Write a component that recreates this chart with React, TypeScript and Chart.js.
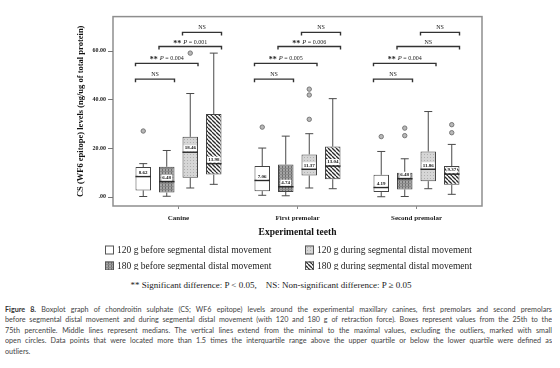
import React, { useEffect, useRef } from "react";
import { Chart, registerables } from "chart.js";

Chart.register(...registerables);

const categories = ["Canine", "First premolar", "Second premolar"];
const seriesNames = [
  "120 g before segmental distal movement",
  "180 g before segmental distal movement",
  "120 g during segmental distal movement",
  "180 g during segmental distal movement",
];
// per series, per category: [min, q1, median, q3, max]
const s120Before = [
  [0.1, 2.6, 8.3, 12.2, 13.6],
  [0.6, 2.3, 6.7, 12.6, 20.0],
  [0.0, 1.9, 3.8, 9.0, 18.6],
];
const s180Before = [
  [0.2, 1.7, 6.2, 12.3, 19.0],
  [0.4, 2.0, 4.1, 13.2, 24.9],
  [0.1, 3.0, 7.4, 9.9, 15.6],
];
const s120During = [
  [3.6, 7.8, 18.3, 24.6, 42.4],
  [3.6, 8.7, 11.3, 17.4, 25.9],
  [3.3, 6.4, 11.3, 18.6, 35.0],
];
const s180During = [
  [5.1, 9.1, 13.6, 34.0, 59.0],
  [3.3, 7.2, 12.6, 20.6, 40.3],
  [1.0, 4.9, 9.3, 12.6, 21.5],
];
const outliers120Before = [[27.0], [28.6], [24.7]];
const outliers180Before = [[], [], [28.2, 25.1]];
const outliers120During = [[59.0], [44.2, 41.8, 31.8], []];
const outliers180During = [[], [], [29.6, 26.3]];
const medianLabels120Before = ["8.62", "7.06", "4.19"];
const medianLabels180Before = ["6.48", "4.74", "6.48"];
const medianLabels120During = ["18.46", "11.37", "11.86"];
const medianLabels180During = ["13.98", "13.04", "9.37"];

// brackets: [category, fromSeries, toSeries, level]
const bracketPos = [
  [0, 0, 1, 48.3], [0, 0, 2, 54.8], [0, 1, 3, 61.7], [0, 2, 3, 67.5],
  [1, 0, 1, 48.3], [1, 0, 2, 54.8], [1, 1, 3, 61.7], [1, 2, 3, 67.5],
  [2, 0, 1, 48.3], [2, 0, 2, 54.8], [2, 1, 3, 61.7], [2, 2, 3, 67.5],
];
const bracketPValues = [
  "NS", "0.004", "0.001", "NS",
  "NS", "0.005", "0.006", "NS",
  "NS", "0.004", "NS", "NS",
];
const yTicks = [0, 20, 40, 60];

const statsAll = [s120Before, s180Before, s120During, s180During];
const outliersAll = [outliers120Before, outliers180Before, outliers120During, outliers180During];
const medLabelsAll = [medianLabels120Before, medianLabels180Before, medianLabels120During, medianLabels180During];

const SERIF = "'Liberation Serif', 'Times New Roman', serif";

function makePattern(kind: number): CanvasPattern | string {
  const c = document.createElement("canvas");
  const n = kind === 3 ? 4 : 3;
  c.width = n;
  c.height = n;
  const g = c.getContext("2d")!;
  if (kind === 0) return "#ffffff";
  if (kind === 1) {
    g.fillStyle = "#a4a4a4";
    g.fillRect(0, 0, n, n);
    g.fillStyle = "#6e6e6e";
    g.fillRect(0, 0, 1, n);
    g.fillStyle = "#8a8a8a";
    g.fillRect(0, 0, n, 1);
  } else if (kind === 2) {
    g.fillStyle = "#d6d6d6";
    g.fillRect(0, 0, n, n);
    g.fillStyle = "#b0b0b0";
    g.fillRect(1, 1, 1, 1);
  } else {
    g.fillStyle = "#ffffff";
    g.fillRect(0, 0, n, n);
    g.strokeStyle = "#2a2a2a";
    g.lineWidth = 1.3;
    for (let k = -1; k <= 1; k++) {
      g.beginPath();
      g.moveTo(k * n, 0);
      g.lineTo(k * n + n, n);
      g.stroke();
    }
  }
  return g.createPattern(c, "repeat")!;
}

const extrasPlugin = {
  id: "boxExtras",
  afterDatasetsDraw(chart: any) {
    const ctx = chart.ctx as CanvasRenderingContext2D;
    const ys = chart.scales.y;
    const area = chart.chartArea;
    const boxGeom: { x: number; w: number }[][] = [];
    ctx.save();
    statsAll.forEach((stats, di) => {
      const meta = chart.getDatasetMeta(di);
      boxGeom[di] = [];
      meta.data.forEach((bar: any, ci: number) => {
        const { x, width } = bar.getProps(["x", "width"], true);
        boxGeom[di][ci] = { x, w: width };
        const [mn, q1, md, q3, mx] = stats[ci];
        const pMn = ys.getPixelForValue(mn);
        const pQ1 = ys.getPixelForValue(q1);
        const pMd = ys.getPixelForValue(md);
        const pQ3 = ys.getPixelForValue(q3);
        const pMx = ys.getPixelForValue(mx);
        ctx.strokeStyle = "#4a4a4a";
        ctx.lineWidth = 1;
        ctx.beginPath();
        ctx.moveTo(x, pQ3);
        ctx.lineTo(x, pMx);
        ctx.moveTo(x - 4, pMx);
        ctx.lineTo(x + 4, pMx);
        ctx.moveTo(x, pQ1);
        ctx.lineTo(x, pMn);
        ctx.moveTo(x - 4, pMn);
        ctx.lineTo(x + 4, pMn);
        ctx.stroke();
        // median
        ctx.strokeStyle = "#2a2a2a";
        ctx.lineWidth = 1.5;
        ctx.beginPath();
        ctx.moveTo(x - width / 2, pMd);
        ctx.lineTo(x + width / 2, pMd);
        ctx.stroke();
        // median label
        const lbl = medLabelsAll[di][ci];
        ctx.font = `bold 5px ${SERIF}`;
        const tw = ctx.measureText(lbl).width;
        ctx.fillStyle = "#ffffff";
        ctx.fillRect(x - tw / 2 - 1, pMd - 7, tw + 2, 6);
        ctx.fillStyle = "#111";
        ctx.textAlign = "center";
        ctx.textBaseline = "middle";
        ctx.fillText(lbl, x, pMd - 4);
        // outliers
        outliersAll[di][ci].forEach((v) => {
          const py = ys.getPixelForValue(v);
          ctx.beginPath();
          ctx.arc(x, py, 2.2, 0, Math.PI * 2);
          ctx.fillStyle = "#b8b8b8";
          ctx.fill();
          ctx.strokeStyle = "#777";
          ctx.lineWidth = 1;
          ctx.stroke();
        });
      });
    });
    // brackets
    bracketPos.forEach(([ci, a, b, level], i) => {
      const ga = boxGeom[a][ci];
      const gb = boxGeom[b][ci];
      const x0 = ga.x - ga.w / 2;
      const x1 = gb.x + gb.w / 2;
      const py = ys.getPixelForValue(level);
      ctx.strokeStyle = "#333";
      ctx.lineWidth = 1.4;
      ctx.beginPath();
      ctx.moveTo(x0, py + 3);
      ctx.lineTo(x0, py);
      ctx.lineTo(x1, py);
      ctx.lineTo(x1, py + 3);
      ctx.stroke();
      const cx = (x0 + x1) / 2;
      const txt = bracketPValues[i];
      ctx.fillStyle = "#222";
      ctx.textBaseline = "alphabetic";
      if (txt === "NS") {
        ctx.font = `6px ${SERIF}`;
        ctx.textAlign = "center";
        ctx.fillText("NS", cx, py - 3);
      } else {
        const parts = [
          { t: "** ", f: `bold 8px ${SERIF}` },
          { t: "P", f: `italic 6.5px ${SERIF}` },
          { t: " = " + txt, f: `6px ${SERIF}` },
        ];
        let total = 0;
        parts.forEach((p) => {
          ctx.font = p.f;
          total += ctx.measureText(p.t).width;
        });
        let xx = cx - total / 2;
        ctx.textAlign = "left";
        parts.forEach((p) => {
          ctx.font = p.f;
          ctx.fillText(p.t, xx, p.t.startsWith("*") ? py - 1 : py - 3);
          xx += ctx.measureText(p.t).width;
        });
      }
    });
    // frame
    ctx.strokeStyle = "#8e8e8e";
    ctx.lineWidth = 1.5;
    ctx.strokeRect(area.left - 6, area.top, area.right - area.left + 12, area.bottom - area.top);
    // y tick marks
    ctx.strokeStyle = "#777";
    ctx.lineWidth = 1;
    yTicks.forEach((v) => {
      const py = Math.round(ys.getPixelForValue(v)) + 0.5;
      ctx.beginPath();
      ctx.moveTo(area.left - 11, py);
      ctx.lineTo(area.left - 6, py);
      ctx.stroke();
    });
    // legend
    const legX = [105, 305];
    const legY = [250, 266];
    const order = [0, 2, 1, 3];
    order.forEach((si) => {
      const col = si >= 2 ? 1 : 0;
      const row = si % 2;
      const lx = legX[col];
      const ly = legY[row];
      const ds = chart.data.datasets[si];
      ctx.fillStyle = ds.backgroundColor;
      ctx.fillRect(lx, ly - 4.5, 9, 9);
      ctx.strokeStyle = "#555";
      ctx.lineWidth = 1;
      ctx.strokeRect(lx + 0.5, ly - 4, 8, 8);
      ctx.fillStyle = "#222";
      ctx.font = `9.5px ${SERIF}`;
      ctx.textAlign = "left";
      ctx.textBaseline = "middle";
      ctx.fillText(seriesNames[si], lx + 12, ly + 0.5);
    });
    ctx.restore();
  },
};

export default function App() {
  const ref = useRef<HTMLCanvasElement>(null);
  useEffect(() => {
    const canvas = ref.current!;
    const chart = new Chart(canvas, {
      type: "bar",
      data: {
        labels: categories,
        datasets: statsAll.map((stats, i) => ({
          label: seriesNames[i],
          data: stats.map((s) => [s[1], s[3]]) as any,
          backgroundColor: makePattern(i) as any,
          borderColor: "#444",
          borderWidth: 1,
          borderSkipped: false,
          categoryPercentage: 0.79,
          barPercentage: 0.66,
        })),
      },
      options: {
        animation: false,
        responsive: false,
        devicePixelRatio: 1,
        layout: { padding: { left: 0, top: 3, right: 84, bottom: 32 } },
        plugins: { legend: { display: false }, tooltip: { enabled: false } },
        scales: {
          x: {
            afterFit: (s: any) => {
              s.height = 32;
            },
            border: { display: false },
            grid: { drawOnChartArea: false, offset: false, tickLength: 3, color: "#888" },
            ticks: { padding: 5, color: "#222", font: { family: SERIF, size: 7, weight: "bold" } },
            title: {
              display: true,
              text: "Experimental teeth",
              color: "#111",
              font: { family: SERIF, size: 9.5, weight: "bold" },
              padding: { top: 0, bottom: 0 },
            },
          },
          y: {
            min: -3.8,
            max: 74,
            afterFit: (s: any) => {
              s.width = 119;
            },
            afterBuildTicks: (s: any) => {
              s.ticks = yTicks.map((v) => ({ value: v }));
            },
            border: { display: false },
            grid: { drawOnChartArea: false, drawTicks: false },
            ticks: {
              padding: 13,
              color: "#222",
              font: { family: SERIF, size: 6, weight: "bold" },
              callback: (v: any) => (Number(v) === 0 ? ".00" : Number(v).toFixed(2)),
            },
            title: {
              display: true,
              text: "CS (WF6 epitope) levels (ng/ug of total protein)",
              color: "#111",
              font: { family: SERIF, size: 8.5, weight: "bold" },
              padding: { top: 76, bottom: 0 },
            },
          },
        },
      },
      plugins: [extrasPlugin],
    });
    return () => chart.destroy();
  }, []);

  const capStyle: React.CSSProperties = {
    position: "absolute",
    left: 5,
    width: 547,
    fontFamily: "Lato, 'Open Sans', sans-serif",
    fontSize: 7.2,
    lineHeight: "10.5px",
    color: "#444",
    textAlign: "justify",
    textAlignLast: "justify" as any,
    whiteSpace: "nowrap",
  };
  const lines = [
    "Boxplot graph of chondroitin sulphate (CS; WF6 epitope) levels around the experimental maxillary canines, first premolars and second premolars",
    "before segmental distal movement and during segmental distal movement (with 120 and 180 g of retraction force). Boxes represent values from the 25th to the",
    "75th percentile. Middle lines represent medians. The vertical lines extend from the minimal to the maximal values, excluding the outliers, marked with small",
    "open circles. Data points that were located more than 1.5 times the interquartile range above the upper quartile or below the lower quartile were defined as",
  ];

  return (
    <div style={{ position: "fixed", left: 0, top: 0, width: 560, height: 368, background: "#fff", overflow: "hidden" }}>
      <canvas ref={ref} width={560} height={270} style={{ position: "absolute", left: 0, top: 0, width: 560, height: 270 }} />
      <div
        style={{
          position: "absolute",
          left: 0,
          width: 542,
          top: 280,
          textAlign: "center",
          fontFamily: SERIF,
          fontSize: 9,
          color: "#222",
          whiteSpace: "pre",
        }}
      >
        {"** Significant difference: P < 0.05,    NS: Non-significant difference: P \u2265 0.05"}
      </div>
      {lines.map((t, i) => (
        <div key={i} style={{ ...capStyle, top: 304.75 + i * 10.5, whiteSpace: "normal", height: 10.5, overflow: "hidden" }}>
          {i === 0 ? (
            <>
              <b style={{ color: "#333" }}>Figure 8.</b> {t}
            </>
          ) : (
            t
          )}
        </div>
      ))}
      <div style={{ ...capStyle, top: 304.75 + 4 * 10.5, textAlignLast: "left" as any }}>outliers.</div>
    </div>
  );
}
